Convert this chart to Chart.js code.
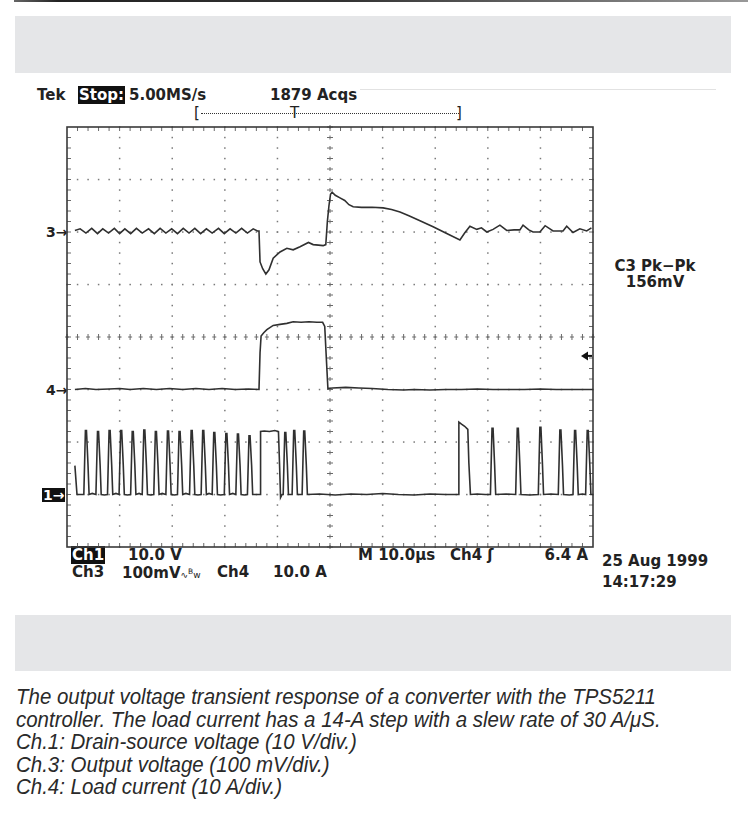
<!DOCTYPE html>
<html>
<head>
<meta charset="utf-8">
<script src="https://cdn.jsdelivr.net/npm/chart.js@4.4.0/dist/chart.umd.min.js"></script>
<style>
body{margin:0;width:748px;height:831px;background:#fff;position:relative;overflow:hidden;font-family:"DejaVu Sans",sans-serif;color:#222}
.t{position:absolute;font-size:15px;line-height:16px;font-weight:bold;white-space:nowrap}
.inv{background:#111;color:#fff;padding:0 1px}
.box{position:absolute;background:#e5e6e8}
.mk{position:absolute;font-size:14px;line-height:14px;font-weight:bold}
#topline{position:absolute;left:14px;top:0;width:734px;height:2px;background:linear-gradient(to right,#666,#222 6%,#333 45%,#999)}
#cap{position:absolute;left:16px;top:686px;font-family:"Liberation Sans",Arial,sans-serif;font-style:italic;font-size:22px;line-height:22.5px;color:#2a2a2a;transform:scaleX(0.93);transform-origin:0 0;white-space:nowrap}
#chartWrap{position:absolute;left:60px;top:120px;width:540px;height:434px}
</style>
</head>
<body>
<div id="topline"></div>
<div class="box" style="left:15px;top:16px;width:716px;height:57px"></div>
<div class="box" style="left:15px;top:615px;width:716px;height:56px"></div>
<div style="position:absolute;left:360px;top:89px;width:356px;border-top:1px solid #e2e2e2"></div>

<!-- header of the scope screen -->
<div class="t" style="left:37px;top:87px">Tek</div>
<div class="t" style="left:78px;top:87px"><span class="inv">Stop:</span></div>
<div class="t" style="left:129px;top:87px">5.00MS/s</div>
<div class="t" style="left:270px;top:87px">1879 Acqs</div>
<div class="t" style="left:194px;top:105px;font-weight:normal">[</div>
<div style="position:absolute;left:201px;top:113px;width:258px;border-top:1px dotted #333"></div>
<div class="t" style="left:290px;top:105px;font-weight:normal">T</div>
<div class="t" style="left:456px;top:105px;font-weight:normal">]</div>

<!-- channel ground markers -->
<div class="mk" style="left:46px;top:225px">3&#8594;</div>
<div class="mk" style="left:46px;top:383px">4&#8594;</div>
<div class="mk" style="left:42px;top:488px;background:#111;color:#fff;padding:0 1px">1&#8594;</div>

<!-- right side readout -->
<div class="t" style="left:610px;top:258px;width:90px;text-align:center">C3 Pk&minus;Pk<br>156mV</div>

<!-- bottom readout -->
<div class="t" style="left:71px;top:547px"><span class="inv">Ch1</span></div>
<div class="t" style="left:128px;top:547px">10.0 V</div>
<div class="t" style="left:358px;top:547px">M 10.0&mu;s</div>
<div class="t" style="left:450px;top:547px">Ch4 &#643;</div>
<div class="t" style="left:538px;top:547px;width:50px;text-align:right">6.4 A</div>
<div class="t" style="left:72px;top:564px">Ch3</div>
<div class="t" style="left:122px;top:564px">100mV<span style="font-size:9px;font-weight:normal">&#8767;<sup>B</sup>w</span></div>
<div class="t" style="left:217px;top:564px">Ch4</div>
<div class="t" style="left:273px;top:564px">10.0 A</div>
<div class="t" style="left:602px;top:553px">25 Aug 1999</div>
<div class="t" style="left:602px;top:574px">14:17:29</div>

<div id="chartWrap"><canvas id="scope" width="540" height="434"></canvas></div>

<div id="cap">The output voltage transient response of a converter with the TPS5211<br>
controller. The load current has a 14-A step with a slew rate of 30 A/&mu;S.<br>
Ch.1: Drain-source voltage (10 V/div.)<br>
Ch.3: Output voltage (100 mV/div.)<br>
Ch.4: Load current (10 A/div.)</div>

<script>
// all values in screen divisions: time 0..10 div (10 us/div), vertical -4..4 div

// Ch3 output voltage (100 mV/div), ground marker at +2 div
var ch3Time = [0.15,0.25,0.36,0.47,0.58,0.68,0.79,0.90,1.00,1.10,1.21,1.32,1.43,1.55,1.66,1.77,1.88,1.99,2.10,2.21,2.32,2.43,2.54,2.65,2.76,2.88,2.99,3.10,3.21,3.32,3.43,3.54,3.62,3.65,
  3.67,3.72,3.78,3.84,3.92,4.05,4.18,4.30,4.43,4.59,4.68,4.78,4.87,4.92,4.95,4.98,5.01,5.04,5.10,5.19,5.28,5.36,5.44,5.60,5.80,6.01,6.17,6.33,6.50,6.70,6.96,7.20,7.47,7.56,7.66,
  7.79,7.88,7.98,8.10,8.23,8.36,8.50,8.61,8.67,8.78,8.86,8.99,9.09,9.24,9.43,9.50,9.62,9.75,9.88,9.97];
var ch3Volt = [2.03,2.06,1.98,2.07,1.97,2.06,1.98,2.07,1.97,2.06,1.97,2.07,1.98,2.06,1.97,2.07,1.98,2.06,1.97,2.07,1.98,2.07,1.97,2.06,1.98,2.07,1.97,2.06,1.98,2.07,1.98,2.06,2.02,2.02,
  1.43,1.30,1.20,1.28,1.50,1.62,1.69,1.66,1.72,1.80,1.76,1.75,1.74,1.76,2.20,2.50,2.72,2.76,2.70,2.65,2.60,2.52,2.48,2.47,2.47,2.46,2.43,2.38,2.31,2.22,2.10,1.98,1.85,1.98,2.11,
  2.05,2.08,2.00,2.05,2.13,2.03,2.04,2.04,2.13,2.04,2.00,2.00,2.12,2.02,2.02,2.11,1.99,2.06,2.02,2.08];

// Ch4 load current (10 A/div), ground marker at -1 div
var ch4Time = [0.15,0.35,0.55,0.80,1.00,1.20,1.45,1.70,1.95,2.20,2.45,2.70,2.95,3.20,3.45,3.65,3.67,3.69,3.74,3.80,3.92,4.05,4.18,4.30,4.45,4.60,4.75,4.86,4.90,4.93,4.96,
  5.05,5.30,5.55,5.80,6.10,6.40,6.60,6.90,7.20,7.50,7.80,8.10,8.40,8.70,9.00,9.30,9.60,10.0];
var ch4Amp = [-1.00,-0.98,-1.00,-0.99,-0.98,-1.00,-0.98,-1.00,-0.98,-1.00,-0.98,-1.00,-0.98,-1.00,-0.99,-1.00,-0.30,0.02,0.08,0.14,0.22,0.24,0.26,0.29,0.28,0.29,0.28,0.28,0.20,-0.40,-0.98,
  -0.97,-0.96,-0.97,-0.98,-1.00,-1.01,-1.00,-1.01,-1.00,-1.00,-0.99,-1.00,-1.00,-1.00,-0.99,-1.00,-1.00,-1.00];

// Ch1 drain-source voltage (10 V/div), ground marker at -3 div
var ch1Time = [0.15,0.19,
  0.32,0.35,0.37,0.40,0.42,0.48, 0.55,0.58,0.60,0.63,0.65,0.71, 0.77,0.80,0.82,0.85,0.87,0.93,
  0.99,1.02,1.04,1.07,1.09,1.15, 1.21,1.24,1.26,1.29,1.31,1.37, 1.43,1.46,1.48,1.51,1.53,1.59,
  1.65,1.68,1.70,1.73,1.75,1.81, 1.88,1.91,1.93,1.96,1.98,2.04, 2.10,2.13,2.15,2.18,2.20,2.26,
  2.33,2.36,2.38,2.41,2.43,2.49, 2.55,2.58,2.60,2.63,2.65,2.70, 2.76,2.79,2.81,2.84,2.86,2.92,
  2.99,3.02,3.04,3.07,3.09,3.15, 3.21,3.24,3.26,3.29,3.31,3.37, 3.43,3.46,3.48,3.51,3.53,3.60,
  3.67,3.68,3.75,3.85,3.95,4.02,4.04,4.06,4.09,
  4.11,4.14,4.16,4.19,4.21, 4.28,4.31,4.33,4.36,4.38, 4.47,4.50,4.52,4.55,4.57,
  4.80,5.10,5.40,5.70,6.00,6.30,6.60,6.90,7.20,7.44,
  7.45,7.50,7.56,7.62,7.64,7.67,7.80,7.95,
  8.05,8.08,8.10,8.13,8.15,8.35, 8.53,8.56,8.58,8.61,8.63,8.80, 8.96,8.99,9.01,9.04,9.06,9.20,
  9.34,9.37,9.39,9.42,9.44,9.55, 9.62,9.65,9.67,9.70,9.72,9.80, 9.86,9.89,9.91,9.94,9.96,10.0];
var ch1Volt = [-2.45,-3.00,
  -3.00,-1.78,-1.78,-2.45,-3.00,-2.98, -3.00,-1.80,-1.80,-2.45,-3.00,-3.01, -3.00,-1.78,-1.78,-2.45,-3.00,-2.98,
  -3.00,-1.78,-1.78,-2.45,-3.00,-3.01, -3.00,-1.80,-1.80,-2.45,-3.00,-2.98, -3.00,-1.77,-1.77,-2.45,-3.00,-3.01,
  -3.00,-1.80,-1.80,-2.45,-3.00,-2.98, -3.00,-1.79,-1.79,-2.45,-3.00,-3.01, -3.00,-1.80,-1.80,-2.45,-3.00,-2.98,
  -3.00,-1.78,-1.78,-2.45,-3.00,-3.01, -3.00,-1.78,-1.78,-2.45,-3.00,-2.98, -3.00,-1.82,-1.82,-2.45,-3.00,-3.01,
  -3.00,-1.84,-1.84,-2.45,-3.00,-2.98, -3.00,-1.85,-1.85,-2.45,-3.00,-3.01, -3.00,-1.88,-1.88,-2.45,-3.00,-3.00,
  -3.00,-1.80,-1.79,-1.80,-1.78,-1.80,-2.40,-3.06,-3.00,
  -3.00,-1.82,-1.82,-2.45,-3.00, -3.00,-1.78,-1.78,-2.45,-3.00, -3.00,-1.79,-1.79,-2.45,-3.00,
  -2.99,-3.01,-2.99,-3.00,-2.98,-3.00,-3.01,-2.99,-3.00,-3.00,
  -1.62,-1.66,-1.70,-1.76,-2.40,-3.00,-2.99,-3.00,
  -3.00,-1.74,-1.74,-2.45,-3.00,-2.99, -3.00,-1.74,-1.74,-2.45,-3.00,-3.01, -3.00,-1.72,-1.72,-2.45,-3.00,-2.99,
  -3.00,-1.77,-1.77,-2.45,-3.00,-3.01, -3.00,-1.78,-1.78,-2.45,-3.00,-2.99, -3.00,-1.78,-1.78,-2.45,-3.00,-3.00];

// trigger level on ch4 (6.4 A above ground), in divisions
var triggerLevel = -0.36;

function pts(xs, ys) {
  var out = [];
  for (var i = 0; i < xs.length; i++) out.push({x: xs[i], y: ys[i]});
  return out;
}

var graticule = {
  id: 'graticule',
  beforeDatasetsDraw: function(chart) {
    var c = chart.ctx, sx = chart.scales.x, sy = chart.scales.y;
    var L = sx.left, R = sx.right, T = sy.top, B = sy.bottom;
    c.save();
    c.fillStyle = '#7a7a7a';
    // dotted lines, one dot per minor division
    for (var i = 1; i < 10; i++) {
      if (i == 5) continue;
      var px = sx.getPixelForValue(i);
      for (var k = 0; k <= 40; k++) {
        var py = sy.getPixelForValue(-4 + k * 0.2);
        c.fillRect(px - 0.7, py - 0.7, 1.5, 1.5);
      }
    }
    for (var j = -3; j <= 3; j++) {
      if (j == 0) continue;
      var py2 = sy.getPixelForValue(j);
      for (var k2 = 0; k2 <= 50; k2++) {
        var px2 = sx.getPixelForValue(k2 * 0.2);
        c.fillRect(px2 - 0.7, py2 - 0.7, 1.5, 1.5);
      }
    }
    // centre crosshair with small cross ticks
    c.strokeStyle = '#6a6a6a';
    c.lineWidth = 1;
    var cx = sx.getPixelForValue(5), cy = sy.getPixelForValue(0);
    c.beginPath();
    for (var k3 = 0; k3 <= 50; k3++) {
      var px3 = sx.getPixelForValue(k3 * 0.2);
      c.moveTo(px3, cy - 3); c.lineTo(px3, cy + 3);
      c.moveTo(px3 - 2, cy); c.lineTo(px3 + 2, cy);
    }
    for (var k4 = 0; k4 <= 40; k4++) {
      var py4 = sy.getPixelForValue(-4 + k4 * 0.2);
      c.moveTo(cx - 3, py4); c.lineTo(cx + 3, py4);
      c.moveTo(cx, py4 - 2); c.lineTo(cx, py4 + 2);
    }
    // ticks on the frame
    for (var k5 = 1; k5 < 50; k5++) {
      var px5 = sx.getPixelForValue(k5 * 0.2);
      c.moveTo(px5, T); c.lineTo(px5, T + 4);
      c.moveTo(px5, B); c.lineTo(px5, B - 4);
    }
    for (var k6 = 1; k6 < 40; k6++) {
      var py6 = sy.getPixelForValue(-4 + k6 * 0.2);
      c.moveTo(L, py6); c.lineTo(L + 4, py6);
      c.moveTo(R, py6); c.lineTo(R - 4, py6);
    }
    c.stroke();
    c.strokeStyle = '#3a3a3a';
    c.lineWidth = 1.6;
    c.strokeRect(L, T, R - L, B - T);
    c.restore();
  },
  afterDatasetsDraw: function(chart) {
    var c = chart.ctx, sx = chart.scales.x, sy = chart.scales.y;
    var ty = sy.getPixelForValue(triggerLevel), R = sx.right;
    c.save();
    c.fillStyle = '#111';
    c.strokeStyle = '#111';
    c.beginPath();
    c.moveTo(R - 12, ty); c.lineTo(R - 5, ty - 4.5); c.lineTo(R - 5, ty + 4.5); c.closePath();
    c.fill();
    c.lineWidth = 2;
    c.beginPath(); c.moveTo(R - 6, ty); c.lineTo(R - 1, ty); c.stroke();
    c.restore();
  }
};

function trace(data) {
  return {data: data, borderColor: '#303030', borderWidth: 1.6, pointRadius: 0, tension: 0, fill: false};
}

var ctx = document.getElementById('scope').getContext('2d');
var scopeChart = new Chart(ctx, {
  type: 'line',
  data: {
    datasets: [
      trace(pts(ch3Time, ch3Volt)),
      trace(pts(ch4Time, ch4Amp)),
      trace(pts(ch1Time, ch1Volt))
    ]
  },
  options: {
    responsive: false,
    animation: false,
    layout: {padding: 7},
    plugins: {legend: {display: false}, tooltip: {enabled: false}},
    scales: {
      x: {type: 'linear', min: 0, max: 10, display: false},
      y: {type: 'linear', min: -4, max: 4, display: false}
    }
  },
  plugins: [graticule]
});
</script>
</body>
</html>
